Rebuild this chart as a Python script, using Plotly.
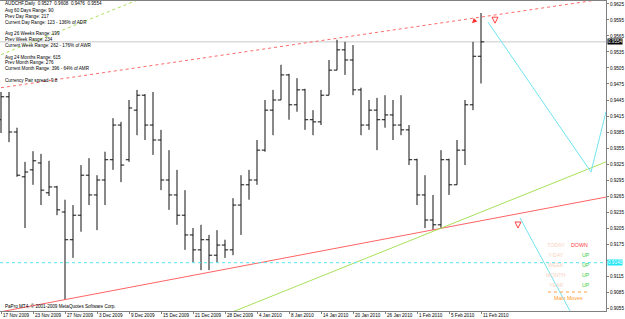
import plotly.graph_objects as go

# ---------------- data ----------------
bar_index = list(range(61))
opens = [0.9408, 0.9451, 0.9385, 0.9301, 0.9314, 0.9327, 0.9271, 0.9282, 0.9235, 0.9183,
         0.9229, 0.9304, 0.9267, 0.9295, 0.9333, 0.9398, 0.9333, 0.9426, 0.9454, 0.9398,
         0.9370, 0.9295, 0.9267, 0.9229, 0.9192, 0.9164, 0.9183, 0.9154, 0.9173, 0.9164,
         0.9248, 0.9286, 0.9295, 0.9351, 0.9426, 0.9445, 0.9492, 0.9436, 0.9464, 0.9408,
         0.9404, 0.9454, 0.9501, 0.9539, 0.9520, 0.9464, 0.9398, 0.9426, 0.9408, 0.9417,
         0.9398, 0.9389, 0.9333, 0.9267, 0.9220, 0.9211, 0.9333, 0.9286, 0.9351, 0.9436,
         0.9527]
highs = [0.9460, 0.9460, 0.9393, 0.9329, 0.9349, 0.9344, 0.9331, 0.9284, 0.9258, 0.9248,
         0.9323, 0.9336, 0.9304, 0.9348, 0.9411, 0.9404, 0.9445, 0.9464, 0.9456, 0.9460,
         0.9389, 0.9351, 0.9314, 0.9276, 0.9205, 0.9211, 0.9192, 0.9201, 0.9183, 0.9261,
         0.9304, 0.9314, 0.9370, 0.9445, 0.9464, 0.9511, 0.9494, 0.9486, 0.9466, 0.9426,
         0.9464, 0.9520, 0.9558, 0.9554, 0.9548, 0.9468, 0.9445, 0.9449, 0.9454, 0.9445,
         0.9454, 0.9398, 0.9335, 0.9304, 0.9267, 0.9351, 0.9335, 0.9370, 0.9445, 0.9554,
         0.9608]
lows = [0.9383, 0.9366, 0.9301, 0.9205, 0.9286, 0.9248, 0.9265, 0.9229, 0.9070, 0.9149,
        0.9198, 0.9248, 0.9201, 0.9248, 0.9314, 0.9291, 0.9329, 0.9379, 0.9370, 0.9342,
        0.9276, 0.9239, 0.9211, 0.9164, 0.9141, 0.9126, 0.9126, 0.9141, 0.9149, 0.9154,
        0.9192, 0.9258, 0.9286, 0.9348, 0.9379, 0.9445, 0.9408, 0.9423, 0.9389, 0.9379,
        0.9398, 0.9454, 0.9501, 0.9492, 0.9454, 0.9379, 0.9389, 0.9351, 0.9393, 0.9370,
        0.9379, 0.9323, 0.9248, 0.9205, 0.9201, 0.9205, 0.9267, 0.9286, 0.9323, 0.9426,
        0.9476]
closes = [0.9451, 0.9385, 0.9304, 0.9310, 0.9331, 0.9276, 0.9282, 0.9239, 0.9183, 0.9229,
          0.9304, 0.9267, 0.9295, 0.9333, 0.9398, 0.9323, 0.9430, 0.9454, 0.9398, 0.9370,
          0.9295, 0.9267, 0.9229, 0.9192, 0.9164, 0.9183, 0.9154, 0.9173, 0.9164, 0.9248,
          0.9286, 0.9295, 0.9351, 0.9426, 0.9445, 0.9492, 0.9436, 0.9464, 0.9408, 0.9404,
          0.9454, 0.9501, 0.9539, 0.9520, 0.9464, 0.9398, 0.9426, 0.9408, 0.9417, 0.9398,
          0.9389, 0.9333, 0.9267, 0.9220, 0.9211, 0.9333, 0.9286, 0.9351, 0.9436, 0.9527,
          0.9554]

date_ticks = list(range(0, 61, 4))
date_labels = ["17 Nov 2009", "23 Nov 2009", "27 Nov 2009", "3 Dec 2009", "9 Dec 2009",
               "15 Dec 2009", "21 Dec 2009", "28 Dec 2009", "4 Jan 2010", "8 Jan 2010",
               "14 Jan 2010", "20 Jan 2010", "26 Jan 2010", "1 Feb 2010", "5 Feb 2010",
               "11 Feb 2010"]

price_ticks = [0.9625, 0.9595, 0.9565, 0.9535, 0.9505, 0.9475, 0.9445, 0.9415, 0.9385,
               0.9355, 0.9325, 0.9295, 0.9265, 0.9235, 0.9205, 0.9175, 0.9145, 0.9115,
               0.9085, 0.9055]
hidden_tick = 0.9145  # covered by the 0.9140 level box in the reference

# trend lines (bar index, price)
support_x, support_y = [0, 75.625], [0.9048, 0.9263]
green_x, green_y = [28, 75.625], [0.9042, 0.9329]
green_dot_x, green_dot_y = [0, 17], [0.9530, 0.9632]
resist_x, resist_y = [0, 75.625], [0.9468, 0.9635]
cyan1_x, cyan1_y = [60.875, 73.75, 75.625], [0.9591, 0.9310, 0.9423]
cyan2_x, cyan2_y = [64.875, 75.625], [0.9224, 0.8924]

current_price = 0.9554
level_price = 0.9140

sw_arrow_x, sw_arrow_y = [58.875], [0.9589]
down_arrow_x, down_arrow_y = [61.75, 64.625], [0.9589, 0.9205]

info_lines = ["AUDCHF,Daily  0.9527  0.9608  0.9476  0.9554",
              "Avg 60 Days Range: 90",
              "Prev Day Range: 217",
              "Current Day Range: 123 - 136% of ADR",
              "Avg 26 Weeks Range: 199",
              "Prev Week Range: 234",
              "Current Week Range: 262 - 176% of AWR",
              "Avg 24 Months Range: 615",
              "Prev Month Range: 276",
              "Current Month Range: 396 - 64% of AMR",
              "Currency Pair spread: 9.8"]
info_rows = [3, 10, 16, 22, 33, 39, 45, 57, 62, 68, 80]

move_names = ["TODAY", "Y-DAY", "WEEK", "MONTH", "YEAR"]
move_dirs = ["DOWN", "UP", "UP", "UP", "UP"]

# ---------------- figure ----------------
FONT = "Liberation Sans, Arial, sans-serif"
W, H = 625, 319
ML, MR, MT, MB = 0, 19, 1, 8
PH = H - MT - MB

fig = go.Figure()

fig.add_trace(go.Scatter(x=support_x, y=support_y, mode="lines",
                         line=dict(color="#ff6464", width=1), hoverinfo="skip"))
fig.add_trace(go.Scatter(x=green_x, y=green_y, mode="lines",
                         line=dict(color="#a8e05a", width=1), hoverinfo="skip"))
fig.add_trace(go.Scatter(x=green_dot_x, y=green_dot_y, mode="lines",
                         line=dict(color="#a8e05a", width=1, dash="dot"), hoverinfo="skip"))
fig.add_trace(go.Scatter(x=resist_x, y=resist_y, mode="lines",
                         line=dict(color="#ff6a6a", width=1, dash="dot"), hoverinfo="skip"))
fig.add_trace(go.Scatter(x=cyan1_x, y=cyan1_y, mode="lines",
                         line=dict(color="#6fe4ef", width=1), hoverinfo="skip"))
fig.add_trace(go.Scatter(x=cyan2_x, y=cyan2_y, mode="lines",
                         line=dict(color="#6fe4ef", width=1), hoverinfo="skip"))

fig.add_trace(go.Ohlc(x=bar_index, open=opens, high=highs, low=lows, close=closes,
                      increasing=dict(line=dict(color="#111111", width=1)),
                      decreasing=dict(line=dict(color="#111111", width=1)),
                      tickwidth=0.4, hoverinfo="skip"))

fig.add_trace(go.Scatter(x=sw_arrow_x, y=sw_arrow_y, mode="markers",
                         marker=dict(symbol="arrow-down", angle=45, size=5, color="#ff3030"),
                         hoverinfo="skip"))
fig.add_trace(go.Scatter(x=down_arrow_x, y=down_arrow_y, mode="markers",
                         marker=dict(symbol="arrow-down-open", size=6, color="#ff4040",
                                     line=dict(width=1, color="#ff4040")),
                         hoverinfo="skip"))

shapes = [
    dict(type="line", xref="paper", yref="y", x0=0, x1=1, y0=current_price, y1=current_price,
         line=dict(color="#c8c8c8", width=1), layer="below"),
    dict(type="line", xref="paper", yref="y", x0=0, x1=1, y0=level_price, y1=level_price,
         line=dict(color="#55e4f0", width=1, dash="dot")),
    # orange separator in the moves panel
    dict(type="line", xref="paper", yref="paper", x0=548 / 606, x1=588 / 606,
         y0=(H - MB - 292) / PH, y1=(H - MB - 292) / PH,
         line=dict(color="#ffa040", width=1, dash="dot")),
]

ann = []
small = dict(family=FONT, size=4.6, color="#000000")
for txt, row in zip(info_lines, info_rows):
    ann.append(dict(text=txt, xref="paper", yref="paper", x=0, y=1, xshift=3,
                    yshift=-(row - MT), xanchor="left", yanchor="middle",
                    showarrow=False, font=small))
ann.append(dict(text="PaPro MT4, © 2001-2009 MetaQuotes Software Corp.", xref="paper",
                yref="paper", x=0, y=1, xshift=3, yshift=-(306 - MT), xanchor="left",
                yanchor="middle", showarrow=False, font=small))
for t, lab in zip(date_ticks, date_labels):
    ann.append(dict(text=lab, xref="x", yref="paper", x=t, y=0, yshift=-4,
                    xanchor="left", yanchor="middle", showarrow=False, font=small))

# current price boxes on the axis
ann.append(dict(text="0.9554", xref="paper", yref="y", x=1, y=current_price, xshift=1,
                xanchor="left", yanchor="middle", showarrow=False, bgcolor="#000000",
                borderpad=0, font=dict(family=FONT, size=4.6, color="#ffffff")))
ann.append(dict(text="0.9140", xref="paper", yref="y", x=1, y=level_price, xshift=1,
                xanchor="left", yanchor="middle", showarrow=False, bgcolor="#1ee6f5",
                borderpad=0, font=dict(family=FONT, size=4.6, color="#ffffff")))

# moves panel
for k, (nm, dr) in enumerate(zip(move_names, move_dirs)):
    ypix = 245 + 10 * k
    ann.append(dict(text=nm, xref="paper", yref="paper", x=556 / 606, y=1,
                    yshift=-(ypix - MT), xanchor="center", yanchor="middle", showarrow=False,
                    font=dict(family=FONT, size=5.3, color="#f7d2bf")))
    ann.append(dict(text=dr, xref="paper", yref="paper",
                    x=(569 if dr == "DOWN" else 580) / 606, y=1,
                    yshift=-(ypix - MT), xanchor="left", yanchor="middle", showarrow=False,
                    font=dict(family=FONT, size=5.3,
                              color="#ff3c3c" if dr == "DOWN" else "#3ccc3c")))
ann.append(dict(text="Main Moves", xref="paper", yref="paper", x=568 / 606, y=1,
                yshift=-(298 - MT), xanchor="center", yanchor="middle", showarrow=False,
                font=dict(family=FONT, size=5.3, color="#ff9a30")))

fig.update_layout(
    width=W, height=H,
    margin=dict(l=ML, r=MR, t=MT, b=MB, pad=0),
    paper_bgcolor="#ffffff", plot_bgcolor="#ffffff",
    showlegend=False,
    shapes=shapes, annotations=ann,
    xaxis=dict(range=[-0.125, 75.625], showgrid=False, zeroline=False,
               tickvals=date_ticks, showticklabels=False, ticks="outside", ticklen=2,
               tickcolor="#808080", showline=True, linecolor="#808080", linewidth=1,
               mirror=True, rangeslider=dict(visible=False), fixedrange=True),
    yaxis=dict(range=[0.90494, 0.96306], side="right", showgrid=False, zeroline=False,
               tickvals=price_ticks,
               ticktext=["" if v == hidden_tick else f"{v:.4f}" for v in price_ticks],
               ticks="outside", ticklen=2, tickcolor="#808080",
               tickfont=dict(family=FONT, size=4.6, color="#000000"),
               showline=True, linecolor="#808080", linewidth=1, mirror=True,
               fixedrange=True),
)

fig.write_html("out.html")
